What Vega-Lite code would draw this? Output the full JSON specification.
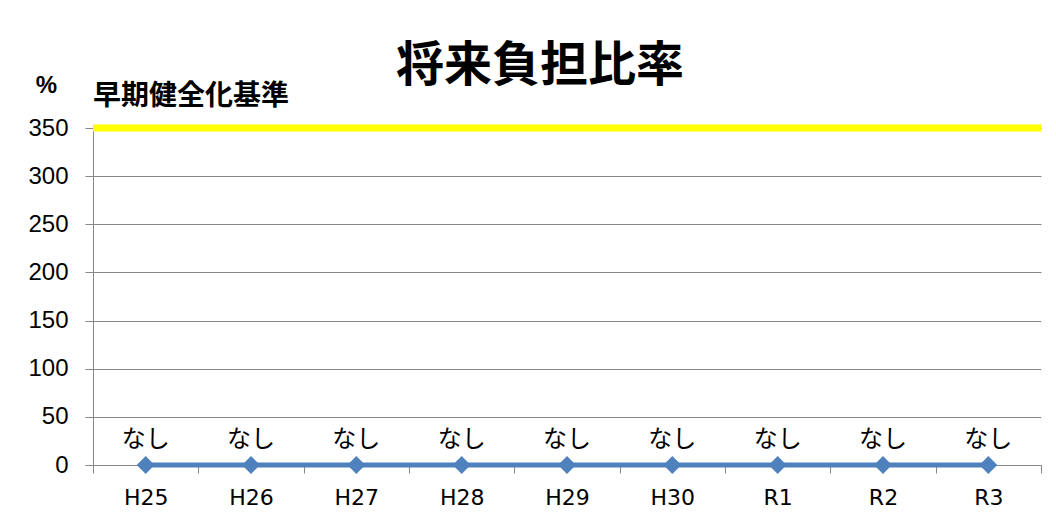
{
  "$schema": "https://vega.github.io/schema/vega-lite/v6.json",
  "width": 948,
  "height": 337,
  "autosize": {"type": "none"},
  "padding": {"left": 93, "top": 128, "right": 15, "bottom": 62},
  "background": "white",
  "title": {
    "text": "将来負担比率",
    "font": "Noto Sans CJK JP",
    "fontSize": 48,
    "fontWeight": "bold",
    "color": "#000000",
    "anchor": "middle",
    "frame": "group",
    "baseline": "middle",
    "dx": -27,
    "offset": -42
  },
  "config": {
    "view": {"stroke": null},
    "font": "Noto Sans CJK JP"
  },
  "layer": [
    {
      "data": {"values": [{"standard": 350, "name": "早期健全化基準"}]},
      "mark": {"type": "rule", "color": "#FFFF00", "strokeWidth": 7},
      "encoding": {
        "y": {"field": "standard", "type": "quantitative", "scale": {"domain": [0, 350], "nice": false}}
      }
    },
    {
      "data": {"values": [{"standard": 350, "name": "早期健全化基準", "year": "H25"}]},
      "mark": {"type": "text", "align": "left", "baseline": "middle", "dy": -31, "fontSize": 28, "fontWeight": "bold", "font": "Noto Sans CJK JP", "color": "#000000"},
      "encoding": {
        "x": {"field": "year", "type": "ordinal", "bandPosition": 0},
        "y": {"field": "standard", "type": "quantitative"},
        "text": {"field": "name"}
      }
    },
    {
      "data": {"name": "main", "values": [
        {"year": "H25", "value": 0, "label": "なし"},
        {"year": "H26", "value": 0, "label": "なし"},
        {"year": "H27", "value": 0, "label": "なし"},
        {"year": "H28", "value": 0, "label": "なし"},
        {"year": "H29", "value": 0, "label": "なし"},
        {"year": "H30", "value": 0, "label": "なし"},
        {"year": "R1", "value": 0, "label": "なし"},
        {"year": "R2", "value": 0, "label": "なし"},
        {"year": "R3", "value": 0, "label": "なし"}
      ]},
      "encoding": {
        "x": {
          "field": "year", "type": "ordinal", "sort": null,
          "scale": {"type": "band", "domain": ["H25", "H26", "H27", "H28", "H29", "H30", "R1", "R2", "R3"], "paddingInner": 0, "paddingOuter": 0},
          "axis": {
            "title": null, "labelAngle": 0, "tickBand": "extent", "bandPosition": 0.5, "labelAlign": "center", "grid": false,
            "domainColor": "#878787", "tickColor": "#878787", "tickSize": 8,
            "labelFontSize": 22, "labelFont": "DejaVu Sans", "labelColor": "#000000", "labelPadding": 24
          }
        },
        "y": {
          "field": "value", "type": "quantitative",
          "scale": {"domain": [0, 350], "nice": false},
          "axis": {
            "values": [0, 50, 100, 150, 200, 250, 300, 350],
            "grid": true, "gridColor": "#878787", "domainColor": "#878787", "tickColor": "#878787", "tickSize": 8,
            "labelFontSize": 24, "labelFont": "Liberation Sans", "labelColor": "#000000", "labelPadding": 17,
            "title": "%", "titleAngle": 0, "titleX": -47, "titleY": -43, "titleAlign": "center", "titleBaseline": "middle",
            "titleFontSize": 24, "titleFontWeight": "bold", "titleFont": "Liberation Sans", "titleColor": "#000000"
          }
        }
      },
      "layer": [
        {"mark": {"type": "line", "color": "#4F81BD", "strokeWidth": 5}},
        {"mark": {"type": "point", "shape": "diamond", "filled": true, "color": "#4F81BD", "opacity": 1, "size": 320}},
        {"mark": {"type": "text", "dy": -25, "baseline": "middle", "fontSize": 24, "font": "Noto Sans CJK JP", "color": "#000000"},
         "encoding": {"text": {"field": "label"}}}
      ]
    }
  ]
}
